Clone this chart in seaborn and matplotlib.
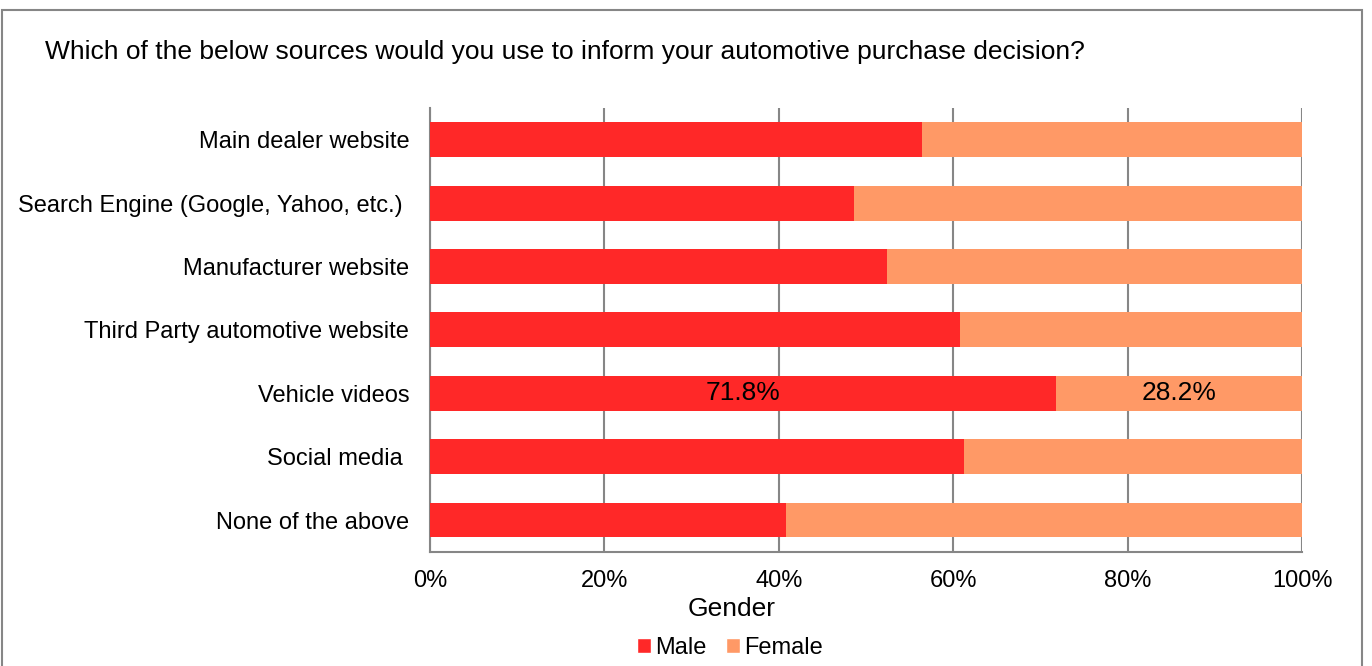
import numpy as np
import pandas as pd
import matplotlib
matplotlib.use("Agg")
import matplotlib.pyplot as plt
from matplotlib.patches import Patch, Rectangle
import seaborn as sns

# --- DATA ---
categories = [
    "Main dealer website",
    "Search Engine (Google, Yahoo, etc.) ",
    "Manufacturer website",
    "Third Party automotive website",
    "Vehicle videos",
    "Social media ",
    "None of the above",
]
male = [56.4, 48.6, 52.4, 60.8, 71.8, 61.2, 40.8]
female = [43.6, 51.4, 47.6, 39.2, 28.2, 38.8, 59.2]
x_ticks = [0, 20, 40, 60, 80, 100]
x_tick_labels = ["0%", "20%", "40%", "60%", "80%", "100%"]
labelled_row = "Vehicle videos"

MALE_COLOR = "#FF2828"
FEMALE_COLOR = "#FF9966"
GRID_COLOR = "#868686"

sns.set_style("white")
plt.rcParams['font.family'] = ['Liberation Sans', 'DejaVu Sans']
plt.rcParams['text.color'] = 'black'
plt.rcParams['axes.labelcolor'] = 'black'

df = pd.DataFrame({'Source': categories, 'Male': male, 'Female': female})
df['Total'] = df['Male'] + df['Female']

fig = plt.figure(figsize=(13.72, 6.66), dpi=100)
ax = fig.add_axes([0.3134, 0.1716, 0.6356, 0.6662])

# stacked bars: total (female colour) first, male on top
sns.barplot(data=df, x='Total', y='Source', color=FEMALE_COLOR, saturation=1,
            width=0.55, linewidth=0, ax=ax, zorder=2)
sns.barplot(data=df, x='Male', y='Source', color=MALE_COLOR, saturation=1,
            width=0.55, linewidth=0, ax=ax, zorder=3)

ax.set_xlim(0, 100)
ax.set_ylim(6.5, -0.5)
ax.set_xticks(x_ticks)
ax.set_xticklabels(x_tick_labels, fontsize=17)
ax.set_yticks(range(len(categories)))
ax.set_yticklabels(categories, fontsize=17)
ax.set_yticks(np.arange(-0.5, len(categories), 1), minor=True)
ax.set_xlabel("")
ax.set_ylabel("")

ax.set_axisbelow(True)
ax.xaxis.grid(True, color=GRID_COLOR, lw=1.5)
ax.yaxis.grid(False)
for side in ['top', 'right']:
    ax.spines[side].set_visible(False)
for side in ['left', 'bottom']:
    ax.spines[side].set_color(GRID_COLOR)
    ax.spines[side].set_linewidth(1.5)

ax.tick_params(axis='y', which='major', length=0, pad=15, labelcolor='black')
ax.tick_params(axis='y', which='minor', length=4, width=1.5, color=GRID_COLOR)
ax.tick_params(axis='x', which='major', length=4, width=1.5, color=GRID_COLOR, pad=9,
               labelcolor='black')

# value labels for the one annotated row
i = categories.index(labelled_row)
ax.text(male[i] / 2, i, f"{male[i]:.1f}%", ha='center', va='center', fontsize=19, zorder=5)
ax.text(male[i] + female[i] / 2, i, f"{female[i]:.1f}%", ha='center', va='center',
        fontsize=19, zorder=5)

fig.text(45 / 1372, 0.922, "Which of the below sources would you use to inform your automotive purchase decision?",
         ha='left', va='center', fontsize=19)
fig.text(0.533, 0.0856, "Gender", ha='center', va='center', fontsize=19)

handles = [Patch(facecolor=MALE_COLOR, label='Male'),
           Patch(facecolor=FEMALE_COLOR, label='Female')]
fig.legend(handles=handles, loc='center', bbox_to_anchor=(0.532, 0.027), ncol=2,
           frameon=False, fontsize=17, handlelength=0.6, handleheight=0.6,
           handletextpad=0.2, columnspacing=0.8, borderpad=0)

# outer chart frame
fig.patches.append(Rectangle((2 / 1372, -0.1), 1360 / 1372, 0.1 + 656 / 666,
                             transform=fig.transFigure, fill=False,
                             ec=GRID_COLOR, lw=1.5))

fig.savefig("out.png", dpi=100)
